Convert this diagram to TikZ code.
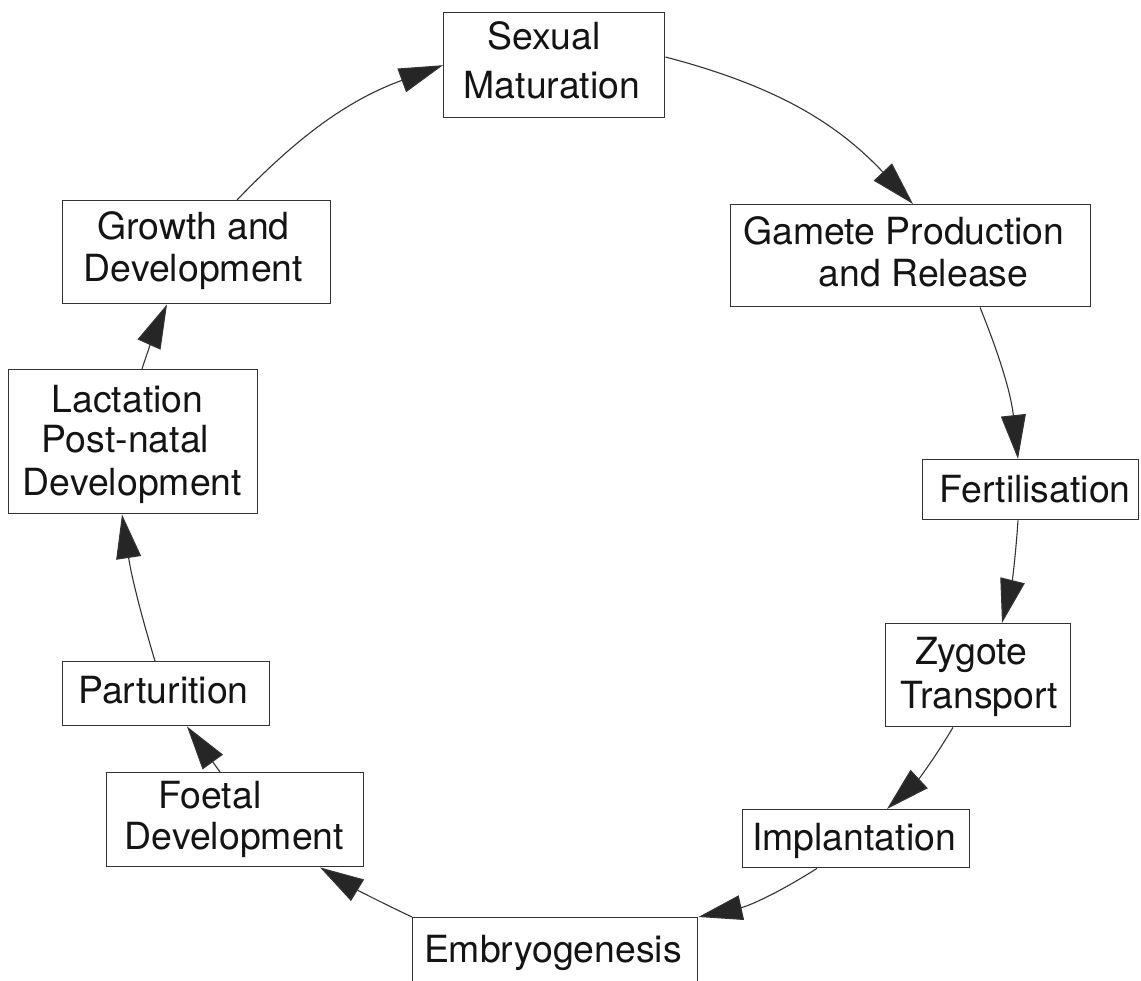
\documentclass[tikz,border=0pt]{standalone}
\usepackage{fontspec}
\setmainfont{TeX Gyre Heros}
\usetikzlibrary{arrows.meta,calc}
\tikzset{
 box/.style={draw=black!80, line width=1.4pt, anchor=north west, inner sep=0pt},
 lbl/.style={anchor=base, inner sep=0pt, font=\fontsize{37.4}{42}\selectfont, text=black!92},
 conn/.style={draw=black!80, line width=1.1pt, -{Triangle[length=44pt,width=25pt,fill=black!85]}},
}
\begin{document}
\begin{tikzpicture}[x=1pt,y=1pt]
\useasboundingbox (0,0) rectangle (1141,-981);
\clip (0,0) rectangle (1141,-981);
% boxes
\node[box, minimum width=221pt, minimum height=105pt] (sm) at (443,-12) {};
\node[box, minimum width=360pt, minimum height=102pt] (gp) at (730,-204) {};
\node[box, minimum width=216pt, minimum height=60pt] (fe) at (922,-459) {};
\node[box, minimum width=185pt, minimum height=103pt] (zt) at (885,-623) {};
\node[box, minimum width=227pt, minimum height=58pt] (im) at (742,-809) {};
\node[box, minimum width=285pt, minimum height=100pt] (em) at (412,-917) {};
\node[box, minimum width=257pt, minimum height=94pt] (fd) at (106,-772) {};
\node[box, minimum width=207pt, minimum height=64pt] (pa) at (62,-661) {};
\node[box, minimum width=249pt, minimum height=144pt] (la) at (8,-369) {};
\node[box, minimum width=268pt, minimum height=103pt] (gd) at (62,-200) {};
% labels
\node[lbl] (t1) at (544,-50) {Sexual};
\node[lbl] (t2) at (552,-99) {Maturation};
\node[lbl] (t3) at (904,-245) {Gamete Production};
\node[lbl] (t4) at (923.5,-287) {and Release};
\node[lbl] (t5) at (1035,-503) {Fertilisation};
\node[lbl] (t6) at (971.5,-664) {Zygote};
\node[lbl] (t7) at (979.5,-708) {Transport};
\node[lbl] (t8) at (854,-850) {Implantation};
\node[lbl] (t9) at (553,-962) {Embryogenesis};
\node[lbl] (t10) at (210,-808) {Foetal};
\node[lbl] (t11) at (234.5,-849) {Development};
\node[lbl] (t12) at (163.5,-703) {Parturition};
\node[lbl] (t13) at (127.5,-413) {Lactation};
\node[lbl] (t14) at (125.5,-453) {Post-natal};
\node[lbl] (t15) at (132.5,-495) {Development};
\node[lbl] (t16) at (193.5,-240) {Growth and};
\node[lbl] (t17) at (193.5,-282) {Development};
% connectors
\draw[conn] ($(gd.north west)+(175,0)$) to[bend left=13] (sm.west);
\draw[conn] ($(sm.north east)+(0,-45)$) to[bend left=16] ($(gp.north west)+(183,0)$);
\draw[conn] ($(gp.south west)+(250,0)$) to[bend left=8] ($(fe.north west)+(96,0)$);
\draw[conn] ($(fe.south west)+(96,0)$) to[bend left=5] ($(zt.north west)+(117,0)$);
\draw[conn] ($(zt.south west)+(68,0)$) to[bend left=8] ($(im.north west)+(145,0)$);
\draw[conn] ($(im.south west)+(75,0)$) to[bend left=10] (em.north east);
\draw[conn] (em.north west) to[bend left=3] ($(fd.south west)+(214,0)$);
\draw[conn] ($(fd.north west)+(114,0)$) to ($(pa.south west)+(125,0)$);
\draw[conn] ($(pa.north west)+(93,0)$) to[bend left=4] ($(la.south west)+(114,0)$);
\draw[conn] ($(la.north west)+(134,0)$) to[bend left=3] ($(gd.south west)+(105,0)$);
\end{tikzpicture}
\end{document}
